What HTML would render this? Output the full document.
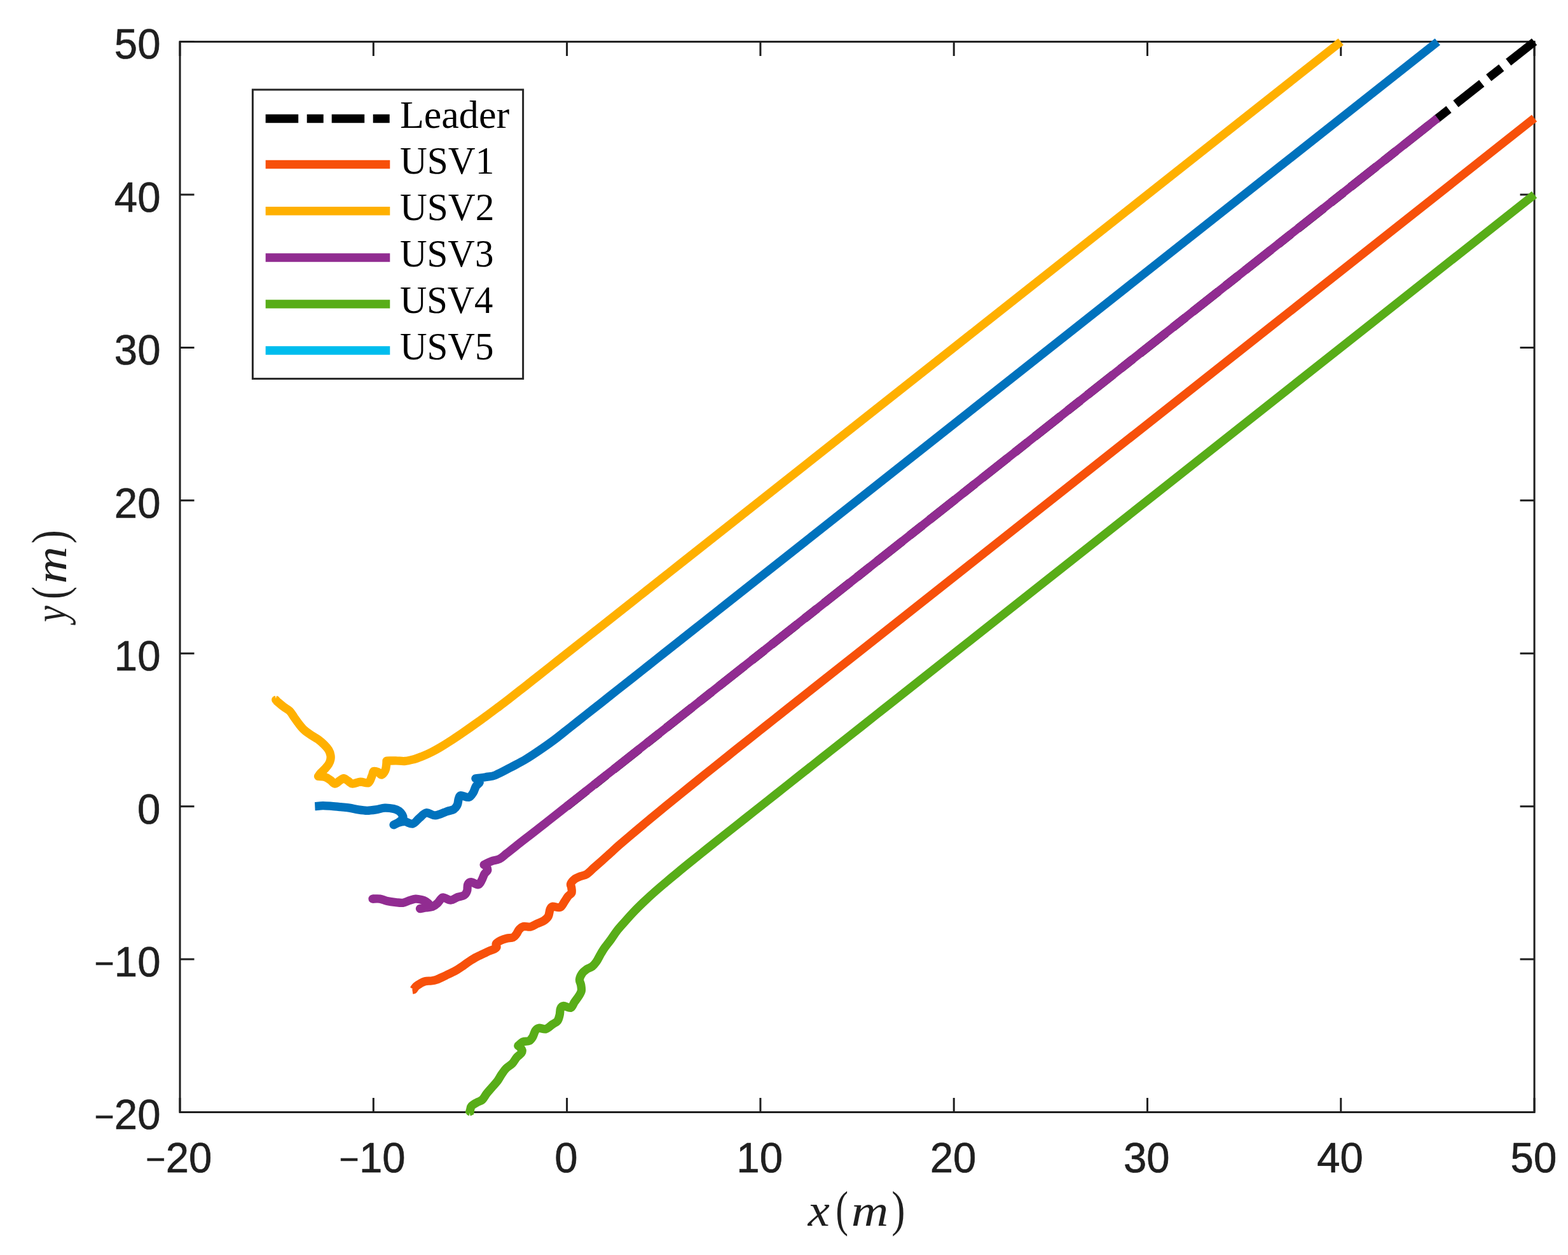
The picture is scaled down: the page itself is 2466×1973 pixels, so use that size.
<!DOCTYPE html>
<html lang="en">
<head>
<meta charset="utf-8">
<title>USV formation trajectories</title>
<style>
html,body{margin:0;padding:0;background:#fff;}
body{width:2466px;height:1973px;overflow:hidden;}
svg{display:block;}
.tick{font-family:"Liberation Sans",Arial,Helvetica,sans-serif;font-size:66.3px;fill:#1f1f1f;stroke:#1f1f1f;stroke-width:0.7px;}
.leg{font-family:"Liberation Serif","DejaVu Serif",serif;fill:#000;}
.lab{font-family:"Liberation Serif","DejaVu Serif",serif;fill:#1f1f1f;}
.crv{fill:none;stroke-width:13.3;stroke-linejoin:round;stroke-linecap:butt;}
</style>
</head>
<body>
<svg width="2466" height="1973" viewBox="0 0 2466 1973">
<rect x="0" y="0" width="2466" height="1973" fill="#ffffff"/>
<g stroke="#1f1f1f" stroke-width="3" fill="none" stroke-linecap="butt">
<rect x="283.0" y="65.6" width="2130.1" height="1682.9"/>
<path d="M283.0,1748.5v-22.5M283.0,65.6v22.5M283.0,1748.5h22.5M2413.1,1748.5h-22.5M587.3,1748.5v-22.5M587.3,65.6v22.5M283.0,1508.1h22.5M2413.1,1508.1h-22.5M891.6,1748.5v-22.5M891.6,65.6v22.5M283.0,1267.7h22.5M2413.1,1267.7h-22.5M1195.9,1748.5v-22.5M1195.9,65.6v22.5M283.0,1027.3h22.5M2413.1,1027.3h-22.5M1500.2,1748.5v-22.5M1500.2,65.6v22.5M283.0,786.8h22.5M2413.1,786.8h-22.5M1804.5,1748.5v-22.5M1804.5,65.6v22.5M283.0,546.4h22.5M2413.1,546.4h-22.5M2108.8,1748.5v-22.5M2108.8,65.6v22.5M283.0,306.0h22.5M2413.1,306.0h-22.5M2413.1,1748.5v-22.5M2413.1,65.6v22.5M283.0,65.6h22.5M2413.1,65.6h-22.5"/>
</g>
<g class="crv">
<path d="M2413.1,65.6L891.6,1267.7" stroke="#000000" stroke-dasharray="52 14 25.5 14"/>
<path d="M648.4,1556.1L650.5,1555.8C651.1,1554.9 652.7,1552.1 654.5,1550.5C656.3,1548.9 658.8,1547.4 661.2,1546.1C663.5,1544.8 665.7,1543.4 668.5,1542.7C671.4,1542.0 675.3,1542.4 678.3,1542.0C681.3,1541.6 683.3,1541.3 686.4,1540.2C689.4,1539.1 693.8,1537.0 696.8,1535.6C699.8,1534.3 701.4,1533.3 704.2,1532.0C706.9,1530.7 711.0,1528.8 713.5,1527.6C716.0,1526.3 716.7,1525.9 719.1,1524.5C721.4,1523.1 724.9,1520.8 727.4,1519.1C729.9,1517.3 731.6,1515.8 733.9,1514.2C736.3,1512.6 738.9,1510.9 741.3,1509.3C743.8,1507.8 746.3,1506.2 748.7,1504.9C751.1,1503.5 753.4,1502.6 755.9,1501.4C758.4,1500.2 761.1,1498.9 763.6,1497.8C766.0,1496.7 768.3,1495.6 770.5,1494.7C772.8,1493.8 775.2,1493.1 776.9,1492.2C778.7,1491.3 780.4,1490.6 781.0,1489.1C781.5,1487.7 779.2,1485.3 780.3,1483.6C781.3,1481.8 784.5,1480.1 787.2,1478.7C790.0,1477.3 793.7,1476.0 797.0,1475.2C800.2,1474.4 804.2,1475.0 806.7,1473.8C809.3,1472.7 810.7,1470.4 812.3,1468.3C813.9,1466.2 814.6,1463.3 816.5,1461.3C818.3,1459.3 820.4,1457.1 823.4,1456.4C826.4,1455.8 831.1,1457.8 834.5,1457.1C838.0,1456.4 840.8,1453.9 844.3,1452.3C847.8,1450.6 852.4,1449.4 855.4,1447.4C858.4,1445.4 860.8,1443.5 862.4,1440.4C864.0,1437.4 864.0,1431.9 865.2,1429.3C866.3,1426.8 866.7,1425.6 869.3,1425.1C872.0,1424.7 877.8,1427.7 880.9,1426.4C884.0,1425.2 885.7,1420.3 887.8,1417.4C889.9,1414.5 891.5,1411.4 893.4,1409.1C895.3,1406.7 898.1,1405.8 899.0,1403.5C899.8,1401.2 898.9,1397.5 898.7,1395.1C898.5,1392.8 896.8,1391.7 897.6,1389.6C898.3,1387.5 900.6,1384.6 903.1,1382.6C905.7,1380.6 909.6,1379.1 912.9,1377.7C916.1,1376.4 919.1,1376.5 922.6,1374.3C926.1,1372.1 929.8,1368.0 933.7,1364.5C937.7,1361.0 941.9,1357.3 946.3,1353.4C950.7,1349.5 955.5,1345.0 960.2,1340.9C964.8,1336.7 967.7,1333.9 974.1,1328.3C980.5,1322.8 990.3,1314.4 998.4,1307.6C1006.6,1300.7 1014.7,1293.9 1022.8,1287.2C1030.9,1280.5 1039.0,1273.8 1047.1,1267.2C1055.2,1260.5 1063.4,1253.9 1071.5,1247.3C1079.6,1240.8 1087.7,1234.2 1095.8,1227.7C1103.9,1221.1 1112.0,1214.6 1120.2,1208.1C1128.3,1201.6 1136.4,1195.1 1144.5,1188.7C1152.6,1182.2 1160.7,1175.7 1168.9,1169.3C1177.0,1162.8 1185.1,1156.4 1193.2,1149.9C1201.3,1143.5 1209.4,1137.0 1217.5,1130.6C1225.7,1124.2 1237.8,1114.5 1241.9,1111.3L2413.1,185.8" stroke="#F7500A"/>
<path d="M434.1,1101.2C436.1,1102.8 442.3,1108.2 445.9,1111.0C449.5,1113.7 452.9,1115.1 455.7,1117.9C458.4,1120.7 460.3,1124.4 462.6,1127.7C464.9,1130.9 467.0,1134.2 469.6,1137.4C472.1,1140.6 474.7,1144.1 477.9,1147.1C481.2,1150.2 485.3,1152.9 489.1,1155.5C492.8,1158.0 496.7,1159.9 500.2,1162.4C503.7,1165.0 507.1,1168.0 509.9,1170.8C512.7,1173.6 515.2,1176.4 516.9,1179.1C518.6,1181.9 519.5,1184.9 519.9,1187.5C520.4,1190.0 520.2,1192.1 519.7,1194.5C519.2,1196.8 518.3,1199.1 516.9,1201.4C515.5,1203.7 513.4,1206.0 511.3,1208.4C509.2,1210.7 506.2,1213.3 504.4,1215.3C502.6,1217.3 501.1,1219.6 500.5,1220.5C502.3,1220.7 508.1,1220.6 511.3,1221.6C514.5,1222.6 517.1,1224.7 519.7,1226.5C522.2,1228.2 524.3,1231.8 526.6,1232.0C528.9,1232.3 531.3,1229.2 533.6,1227.8C535.9,1226.5 538.2,1223.7 540.5,1223.7C542.9,1223.7 545.2,1226.5 547.5,1227.8C549.8,1229.2 551.2,1231.8 554.5,1232.0C557.7,1232.3 562.8,1229.5 567.0,1229.2C571.2,1229.0 576.5,1232.3 579.5,1230.6C582.5,1229.0 583.7,1222.5 585.1,1219.5C586.5,1216.5 586.2,1213.5 587.8,1212.5C589.5,1211.6 592.7,1213.0 594.8,1213.9C596.9,1214.9 598.5,1218.6 600.4,1218.1C602.2,1217.6 604.7,1213.7 605.9,1211.2C607.1,1208.6 607.3,1205.3 607.6,1202.8C608.0,1200.3 608.0,1197.2 608.0,1196.1C610.5,1196.1 617.9,1195.8 622.6,1195.8C627.4,1195.9 631.9,1196.9 636.5,1196.5C641.2,1196.2 645.8,1195.0 650.5,1193.8C655.1,1192.5 659.7,1190.7 664.4,1188.9C669.0,1187.0 673.7,1184.9 678.3,1182.6C682.9,1180.3 687.1,1178.0 692.2,1175.0C697.3,1172.0 703.2,1168.3 709.0,1164.5C714.9,1160.8 721.2,1156.4 727.3,1152.3C733.4,1148.1 739.4,1143.9 745.5,1139.5C751.6,1135.2 757.7,1130.8 763.8,1126.3C769.9,1121.9 776.0,1117.4 782.1,1112.8C788.1,1108.3 793.2,1104.5 800.3,1099.0C807.4,1093.5 816.5,1086.3 824.7,1079.9C832.8,1073.5 840.9,1067.1 849.0,1060.7C857.1,1054.3 865.2,1047.9 873.3,1041.5C881.5,1035.1 889.6,1028.7 897.7,1022.3C905.8,1015.9 913.9,1009.5 922.0,1003.1C930.1,996.7 938.3,990.3 946.4,983.9C954.5,977.5 962.6,971.1 970.7,964.7C978.8,958.3 986.9,951.9 995.1,945.5C1003.2,939.1 1011.3,932.7 1019.4,926.3C1027.5,919.9 1035.6,913.4 1043.8,907.0C1051.9,900.6 1064.0,891.0 1068.1,887.8L2108.8,65.6" stroke="#FFB000"/>
<path d="M585.7,1413.1C587.7,1413.1 593.7,1412.5 597.6,1413.1C601.4,1413.6 604.5,1415.6 608.7,1416.5C612.9,1417.5 618.4,1418.2 622.6,1418.6C626.8,1419.1 630.3,1419.8 633.7,1419.3C637.2,1418.9 640.2,1416.9 643.5,1415.8C646.7,1414.8 650.0,1413.3 653.2,1413.1C656.5,1412.8 660.2,1413.8 663.0,1414.5C665.8,1415.1 667.8,1415.8 669.9,1417.2C672.0,1418.6 675.7,1421.3 675.5,1422.8C675.3,1424.3 671.0,1425.3 668.5,1426.3C666.0,1427.3 661.8,1428.3 660.5,1428.6C662.0,1428.4 666.7,1427.5 669.9,1427.0C673.1,1426.5 676.7,1426.7 679.7,1425.6C682.7,1424.4 685.7,1422.1 688.0,1420.0C690.3,1417.9 692.0,1414.6 693.6,1413.1C695.2,1411.6 695.2,1410.6 697.8,1411.0C700.3,1411.3 705.2,1415.3 708.9,1415.1C712.6,1415.0 716.5,1411.6 720.0,1410.3C723.5,1409.0 727.3,1409.1 729.8,1407.5C732.2,1405.9 733.7,1403.3 734.6,1400.5C735.6,1397.8 734.6,1393.1 735.6,1390.8C736.6,1388.5 738.2,1386.6 740.9,1386.6C743.6,1386.6 749.2,1391.3 752.0,1390.8C754.8,1390.3 756.0,1386.6 757.6,1383.8C759.2,1381.1 760.3,1376.7 761.8,1374.1C763.3,1371.5 766.1,1370.4 766.6,1368.5C767.2,1366.7 766.2,1364.5 765.2,1363.0C764.3,1361.5 761.8,1360.1 761.1,1359.5C763.0,1358.6 768.8,1355.4 772.9,1353.9C777.0,1352.4 781.5,1352.4 785.4,1350.4C789.4,1348.5 792.4,1345.3 796.5,1342.1C800.7,1338.8 804.1,1336.0 810.5,1331.0C816.8,1325.9 826.7,1318.3 834.8,1312.0C842.9,1305.6 851.0,1299.2 859.2,1292.9C867.3,1286.5 875.4,1280.1 883.5,1273.8C891.6,1267.4 899.7,1261.0 907.8,1254.6C916.0,1248.2 924.1,1241.8 932.2,1235.4C940.3,1229.1 948.4,1222.7 956.5,1216.3C964.6,1209.9 972.8,1203.5 980.9,1197.1C989.0,1190.7 997.1,1184.3 1005.2,1177.8C1013.3,1171.4 1021.4,1165.0 1029.6,1158.6C1037.7,1152.2 1045.8,1145.8 1053.9,1139.4C1062.0,1133.0 1074.2,1123.4 1078.2,1120.2L2260.9,185.8" stroke="#912C91"/>
<path d="M738.3,1751.2C738.5,1750.1 739.1,1746.4 739.7,1744.3C740.2,1742.2 740.0,1740.6 741.7,1738.7C743.5,1736.9 747.3,1734.8 750.1,1733.2C752.9,1731.5 755.9,1731.3 758.4,1729.0C761.0,1726.7 762.8,1722.5 765.4,1719.2C767.9,1716.0 771.0,1712.7 773.7,1709.5C776.5,1706.3 779.5,1703.2 782.1,1699.8C784.6,1696.3 786.7,1692.0 789.1,1688.6C791.4,1685.3 793.2,1682.4 796.0,1679.6C798.8,1676.8 803.0,1674.8 805.8,1671.9C808.5,1669.0 810.4,1664.9 812.7,1662.2C815.0,1659.5 818.3,1657.8 819.7,1655.9C821.1,1654.1 821.4,1652.7 821.1,1651.1C820.7,1649.4 818.6,1647.3 817.6,1646.2C816.5,1645.0 815.3,1644.4 814.8,1644.1C816.1,1643.1 819.6,1639.1 822.4,1637.8C825.3,1636.6 829.6,1637.7 832.2,1636.4C834.7,1635.2 836.1,1632.9 837.8,1630.2C839.4,1627.5 840.3,1622.8 841.9,1620.4C843.6,1618.1 844.7,1616.7 847.5,1616.3C850.3,1615.8 855.1,1618.6 858.6,1617.7C862.1,1616.7 865.4,1612.8 868.4,1610.7C871.4,1608.6 874.7,1607.7 876.7,1605.1C878.7,1602.6 879.4,1598.6 880.2,1595.4C881.0,1592.2 880.5,1588.0 881.6,1585.7C882.6,1583.3 883.8,1581.7 886.5,1581.5C889.1,1581.3 894.8,1585.2 897.6,1584.3C900.4,1583.3 901.1,1578.9 903.2,1575.9C905.2,1572.9 908.3,1569.2 910.1,1566.2C912.0,1563.2 913.7,1560.8 914.3,1557.8C914.9,1554.8 914.1,1551.1 913.6,1548.1C913.1,1545.1 911.1,1542.8 911.5,1539.9C911.8,1536.9 913.8,1532.8 915.7,1530.1C917.5,1527.4 920.1,1525.6 922.6,1523.8C925.2,1522.1 928.4,1521.6 931.0,1519.7C933.5,1517.7 935.8,1515.0 937.9,1512.0C940.0,1509.1 941.7,1505.2 943.6,1501.9C945.5,1498.6 947.4,1495.2 949.2,1492.5C951.0,1489.8 952.3,1488.2 954.2,1485.6C956.1,1483.0 957.9,1481.0 960.8,1477.0C963.7,1473.0 967.6,1466.6 971.6,1461.6C975.6,1456.6 980.2,1451.8 984.6,1446.8C989.0,1441.8 993.6,1436.8 998.3,1431.9C1003.0,1427.0 1007.8,1422.4 1012.8,1417.6C1017.8,1412.9 1022.7,1408.4 1028.3,1403.4C1033.9,1398.4 1040.4,1392.9 1046.5,1387.7C1052.6,1382.4 1058.4,1377.6 1065.1,1372.2C1071.7,1366.7 1078.7,1361.0 1086.4,1354.8C1094.0,1348.7 1102.6,1341.8 1110.7,1335.3C1118.8,1328.8 1126.9,1322.3 1135.0,1315.9C1143.2,1309.4 1151.3,1303.0 1159.4,1296.6C1167.5,1290.2 1175.6,1283.8 1183.7,1277.4C1191.8,1270.9 1200.0,1264.5 1208.1,1258.1C1216.2,1251.7 1224.3,1245.3 1232.4,1238.9C1240.5,1232.4 1248.6,1226.0 1256.8,1219.6C1264.9,1213.2 1273.0,1206.8 1281.1,1200.4C1289.2,1194.0 1297.3,1187.5 1305.4,1181.1C1313.6,1174.7 1321.7,1168.3 1329.8,1161.9C1337.9,1155.5 1346.0,1149.1 1354.1,1142.7C1362.3,1136.3 1370.4,1129.8 1378.5,1123.4C1386.6,1117.0 1398.8,1107.4 1402.8,1104.2L2413.1,306.0" stroke="#58AD18"/>
<path d="M495.3,1267.7C497.4,1267.6 503.4,1266.7 507.8,1266.6C512.2,1266.6 517.1,1267.0 521.7,1267.3C526.4,1267.7 531.0,1268.2 535.7,1268.7C540.3,1269.2 544.9,1269.4 549.6,1270.1C554.2,1270.8 558.8,1272.2 563.5,1272.9C568.1,1273.6 572.8,1274.3 577.4,1274.3C582.0,1274.3 586.7,1273.6 591.3,1272.9C596.0,1272.2 600.6,1270.3 605.2,1270.1C609.9,1269.9 615.4,1270.7 619.1,1271.5C622.9,1272.3 625.3,1273.5 627.5,1275.0C629.7,1276.5 631.3,1278.7 632.4,1280.5C633.4,1282.4 634.6,1284.1 633.8,1286.1C632.9,1288.1 629.9,1290.6 627.5,1292.4C625.1,1294.2 620.5,1296.1 619.1,1296.8C620.5,1296.2 624.5,1293.9 627.5,1293.1C630.5,1292.2 633.6,1291.3 637.2,1291.7C640.8,1292.0 645.4,1296.1 649.1,1295.1C652.8,1294.2 655.9,1289.0 659.5,1286.1C663.1,1283.2 666.5,1278.5 670.6,1277.8C674.8,1277.1 679.2,1282.3 684.5,1281.9C689.9,1281.6 697.8,1277.3 702.6,1275.7C707.5,1274.0 711.0,1273.9 713.8,1272.2C716.5,1270.4 718.1,1268.0 719.3,1265.2C720.6,1262.4 720.5,1257.9 721.4,1255.5C722.3,1253.1 722.2,1251.0 724.9,1250.6C727.6,1250.3 734.2,1254.2 737.4,1253.4C740.7,1252.6 742.5,1248.7 744.4,1245.8C746.2,1242.9 746.9,1238.6 748.6,1236.0C750.2,1233.5 753.7,1232.2 754.1,1230.4C754.6,1228.7 752.4,1226.7 751.3,1225.6C750.3,1224.5 748.4,1224.2 747.9,1223.9C750.8,1223.5 760.0,1222.3 765.3,1221.4C770.5,1220.5 772.8,1221.1 779.2,1218.6C785.5,1216.1 795.5,1210.5 803.4,1206.4C811.2,1202.2 818.8,1198.5 826.5,1193.9C834.2,1189.3 841.9,1184.1 849.6,1178.8C857.3,1173.6 864.8,1168.3 872.7,1162.4C880.6,1156.4 889.0,1149.5 897.1,1143.1C905.2,1136.7 913.3,1130.3 921.4,1123.9C929.5,1117.5 937.7,1111.1 945.8,1104.7C953.9,1098.3 962.0,1091.8 970.1,1085.4C978.2,1079.0 986.3,1072.6 994.5,1066.2C1002.6,1059.8 1010.7,1053.4 1018.8,1047.0C1026.9,1040.6 1035.0,1034.1 1043.1,1027.7C1051.3,1021.3 1059.4,1014.9 1067.5,1008.5C1075.6,1002.1 1083.7,995.7 1091.8,989.3C1099.9,982.9 1108.1,976.4 1116.2,970.0C1124.3,963.6 1136.5,954.0 1140.5,950.8L2260.9,65.6" stroke="#0072BD"/>
<circle cx="433.8" cy="1100.3" r="6.65" fill="#FFB000" stroke="none"/>
<circle cx="586.0" cy="1413.1" r="6.65" fill="#912C91" stroke="none"/>
<circle cx="739.0" cy="1747.5" r="6.65" fill="#58AD18" stroke="none"/>
</g>
<path d="M432.4,1092.6L435.4,1092.6L433.9,1098.2Z" fill="#fff"/>
<path d="M737.4,1755.6L739.8,1755.6L738.8,1749.6Z" fill="#fff"/>
<g>
<text class="tick" transform="translate(281.8,1842.9) scale(0.985,1)" x="-52.3" y="0"><tspan font-size="54" x="-53.3" y="-1.7">−</tspan><tspan x="-21.5" y="0">20</tspan></text>
<text class="tick" transform="translate(586.1,1842.9) scale(0.985,1)" x="-52.3" y="0"><tspan font-size="54" x="-53.3" y="-1.7">−</tspan><tspan x="-21.5" y="0">10</tspan></text>
<text class="tick" transform="translate(890.4,1842.9) scale(0.985,1)" x="-18.4" y="0">0</text>
<text class="tick" transform="translate(1194.7,1842.9) scale(0.985,1)" x="-36.9" y="0">10</text>
<text class="tick" transform="translate(1499.0,1842.9) scale(0.985,1)" x="-36.9" y="0">20</text>
<text class="tick" transform="translate(1803.3,1842.9) scale(0.985,1)" x="-36.9" y="0">30</text>
<text class="tick" transform="translate(2107.6,1842.9) scale(0.985,1)" x="-36.9" y="0">40</text>
<text class="tick" transform="translate(2411.9,1842.9) scale(0.985,1)" x="-36.9" y="0">50</text>
<text class="tick" transform="translate(252.4,1775.3) scale(0.985,1)" x="-104.5" y="0"><tspan font-size="54" x="-105.5" y="-1.7">−</tspan><tspan x="-73.7" y="0">20</tspan></text>
<text class="tick" transform="translate(252.4,1534.9) scale(0.985,1)" x="-104.5" y="0"><tspan font-size="54" x="-105.5" y="-1.7">−</tspan><tspan x="-73.7" y="0">10</tspan></text>
<text class="tick" transform="translate(252.4,1294.5) scale(0.985,1)" x="-36.9" y="0">0</text>
<text class="tick" transform="translate(252.4,1054.1) scale(0.985,1)" x="-73.7" y="0">10</text>
<text class="tick" transform="translate(252.4,813.6) scale(0.985,1)" x="-73.7" y="0">20</text>
<text class="tick" transform="translate(252.4,573.2) scale(0.985,1)" x="-73.7" y="0">30</text>
<text class="tick" transform="translate(252.4,332.8) scale(0.985,1)" x="-73.7" y="0">40</text>
<text class="tick" transform="translate(252.4,92.4) scale(0.985,1)" x="-73.7" y="0">50</text>
</g>
<g class="lab" transform="translate(1269.6,1927.0)"><text transform="translate(1.20,0.00) scale(1.074,1)" font-size="71.5" font-style="italic">x</text><text transform="translate(44.74,0.00) scale(0.761,1)" font-size="78">(</text><text transform="translate(69.22,0.00) scale(1.160,1)" font-size="70" font-style="italic">m</text><text transform="translate(132.71,0.00) scale(0.816,1)" font-size="78">)</text></g>
<g class="lab" transform="translate(104.0,983.5) rotate(-90)"><text transform="translate(5.42,0.00) scale(0.808,1)" font-size="71.5" font-style="italic">y</text><text transform="translate(41.86,0.00) scale(0.757,1)" font-size="78">(</text><text transform="translate(65.72,0.00) scale(1.160,1)" font-size="70" font-style="italic">m</text><text transform="translate(129.11,0.00) scale(0.816,1)" font-size="78">)</text></g>
<rect x="397.4" y="141.0" width="425.2" height="454.4" fill="#fff" stroke="#262626" stroke-width="3"/>
<line x1="417.7" y1="186.4" x2="613.3" y2="186.4" stroke="#000000" stroke-width="13.5" stroke-dasharray="51.5 13.5 26 13"/>
<text class="leg" x="628.9" y="200.6" font-size="60.5" textLength="172.2" lengthAdjust="spacingAndGlyphs">Leader</text>
<line x1="417.7" y1="258.5" x2="613.3" y2="258.5" stroke="#F7500A" stroke-width="13.5"/>
<text class="leg" x="629.0" y="272.7" font-size="60.5" textLength="148.3" lengthAdjust="spacingAndGlyphs">USV1</text>
<line x1="417.7" y1="331.8" x2="613.3" y2="331.8" stroke="#FFB000" stroke-width="13.5"/>
<text class="leg" x="629.0" y="346.0" font-size="60.5" textLength="148.3" lengthAdjust="spacingAndGlyphs">USV2</text>
<line x1="417.7" y1="404.9" x2="613.3" y2="404.9" stroke="#912C91" stroke-width="13.5"/>
<text class="leg" x="629.0" y="419.1" font-size="60.5" textLength="147.4" lengthAdjust="spacingAndGlyphs">USV3</text>
<line x1="417.7" y1="477.9" x2="613.3" y2="477.9" stroke="#58AD18" stroke-width="13.5"/>
<text class="leg" x="629.0" y="492.1" font-size="60.5" textLength="146.4" lengthAdjust="spacingAndGlyphs">USV4</text>
<line x1="417.7" y1="551.0" x2="613.3" y2="551.0" stroke="#00BDEE" stroke-width="13.5"/>
<text class="leg" x="629.0" y="565.2" font-size="60.5" textLength="147.4" lengthAdjust="spacingAndGlyphs">USV5</text>
</svg>
</body>
</html>
